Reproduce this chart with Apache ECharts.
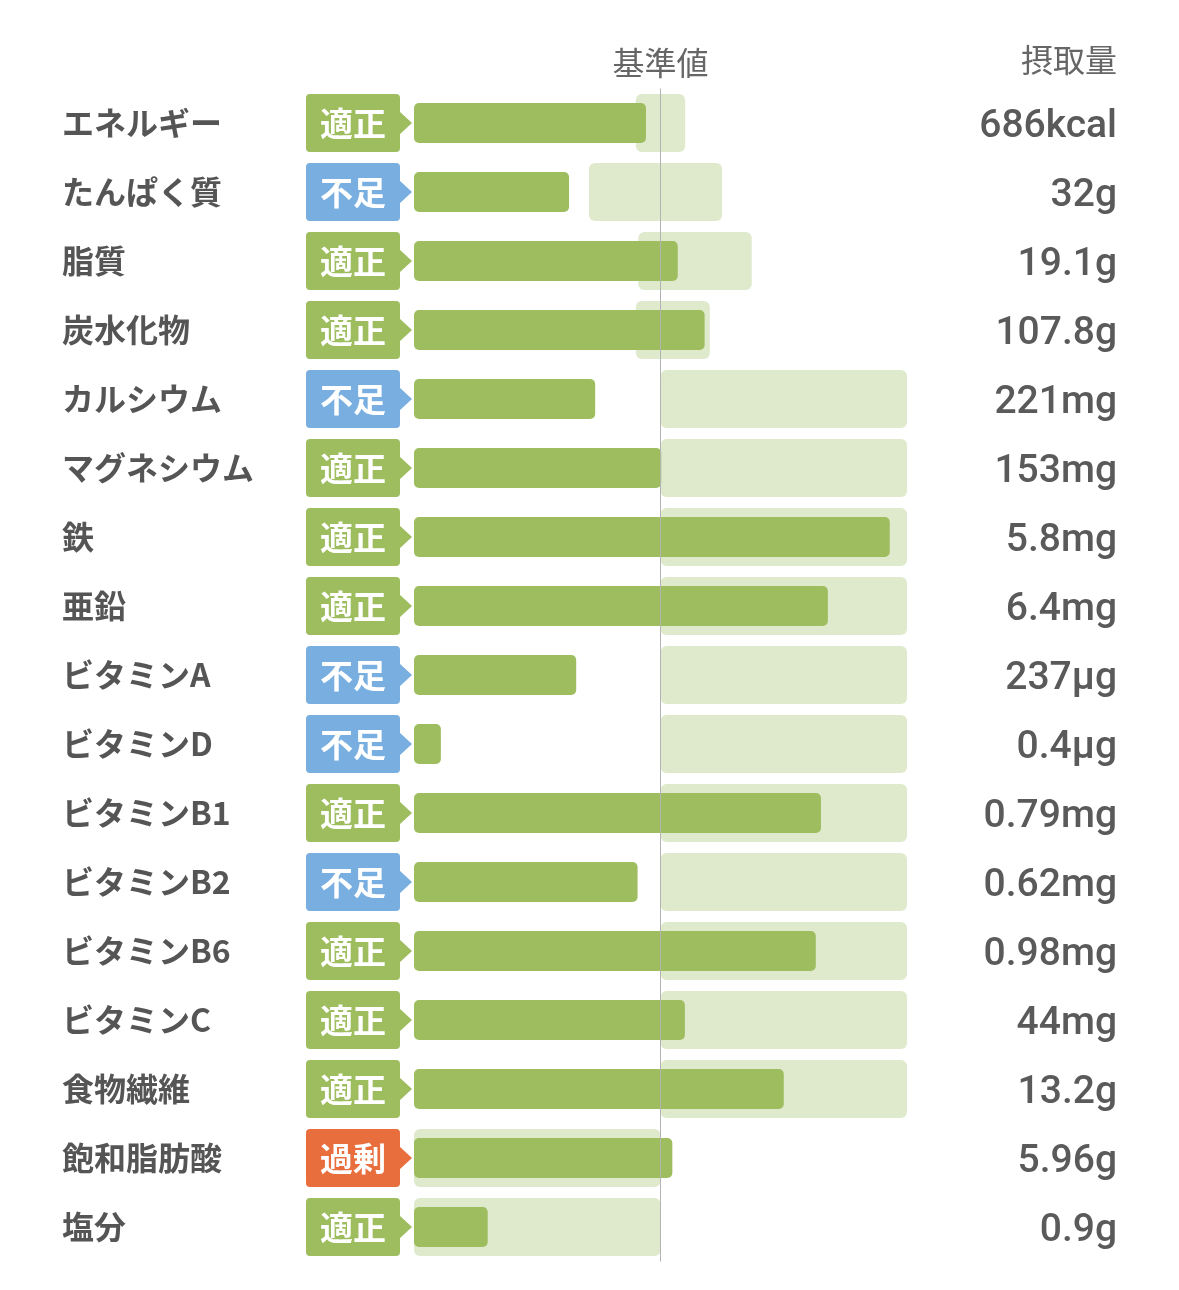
<!DOCTYPE html>
<html>
<head>
<meta charset="utf-8">
<script src="https://cdn.jsdelivr.net/npm/echarts@6/dist/echarts.min.js"></script>
<style>
html,body{margin:0;padding:0;background:#fff;}
#c{width:1179px;height:1290px;}
</style>
</head>
<body>
<div id="c"></div>
<script>
const categories = ['エネルギー','たんぱく質','脂質','炭水化物','カルシウム','マグネシウム','鉄','亜鉛','ビタミンA','ビタミンD','ビタミンB1','ビタミンB2','ビタミンB6','ビタミンC','食物繊維','飽和脂肪酸','塩分'];
const status = ['適正','不足','適正','適正','不足','適正','適正','適正','不足','不足','適正','不足','適正','適正','適正','過剰','適正'];
// intake as % of reference value
const intake = [94.1, 62.9, 107.0, 117.9, 73.5, 100.3, 193.0, 167.9, 65.8, 10.9, 165.1, 90.7, 163.0, 109.9, 150.0, 104.8, 29.9];
const rangeLow = [90, 71, 91, 90, 100, 100, 100, 100, 100, 100, 100, 100, 100, 100, 100, 0, 0];
const rangeHigh = [110, 125, 137, 120, 200, 200, 200, 200, 200, 200, 200, 200, 200, 200, 200, 100, 100];
const intakeLabels = ['686kcal','32g','19.1g','107.8g','221mg','153mg','5.8mg','6.4mg','237µg','0.4µg','0.79mg','0.62mg','0.98mg','44mg','13.2g','5.96g','0.9g'];
const referenceValue = 100;

const statusColor = {'適正':'#9dbd5e','不足':'#79aee0','過剰':'#e86f3d'};
const CJK = '"Noto Sans CJK JP","Noto Sans",sans-serif';

const chart = echarts.init(document.getElementById('c'), null, {renderer:'canvas'});

const bandData = categories.map((c,i)=>[rangeLow[i], rangeHigh[i], i]);
const badgeData = categories.map((c,i)=>[0, i, status[i]]);

chart.setOption({
  backgroundColor:'#fff',
  animation:false,
  grid:{left:414, right:272, top:88.5, bottom:28.5},
  xAxis:{type:'value', min:0, max:200, show:false},
  yAxis:[{
    type:'category', data:categories, inverse:true,
    axisLine:{show:false}, axisTick:{show:false}, splitLine:{show:false},
    axisLabel:{align:'left', margin:352, fontSize:32, fontWeight:'bold', color:'#555', fontFamily:CJK}
  },{
    type:'category', data:intakeLabels, inverse:true, position:'right',
    axisLine:{show:false}, axisTick:{show:false}, splitLine:{show:false},
    axisLabel:{align:'right', margin:210,
      formatter:function(v){ return '{v|' + v + '}'; },
      rich:{v:{fontSize:39, fontWeight:500, color:'#5a5a5a', fontFamily:'Roboto,"Noto Sans",sans-serif', padding:[9,0,0,0]}}}
  }],
  graphic:[{
    type:'text', right:62, top:44,
    style:{text:'摂取量', fill:'#666', font:'32px "Noto Sans CJK JP"', textAlign:'right'}
  }],
  series:[{
    type:'custom', z:1,
    data:bandData,
    encode:{x:[0,1], y:2},
    renderItem:function(params, api){
      const a = api.coord([api.value(0), api.value(2)]);
      const b = api.coord([api.value(1), api.value(2)]);
      const h = api.size([0,1])[1]*0.84;
      return {type:'rect', shape:{x:a[0], y:a[1]-h/2, width:b[0]-a[0], height:h, r:6},
        style:{fill:'#dfe9cc'}};
    }
  },{
    type:'bar', z:2,
    data:intake, barWidth:40,
    itemStyle:{color:'#9dbd5e', borderRadius:5}
  },{
    type:'custom', z:5,
    data:badgeData,
    encode:{x:0, y:1},
    renderItem:function(params, api){
      const p = api.coord([0, api.value(1)]);
      const h = api.size([0,1])[1]*0.84;
      const st = status[params.dataIndex];
      const col = statusColor[st];
      const x0 = p[0]-108, w = 94, cy = p[1];
      return {type:'group', children:[
        {type:'rect', shape:{x:x0, y:cy-h/2, width:w, height:h, r:4}, style:{fill:col}},
        {type:'polygon', shape:{points:[[x0+w-1, cy-12],[x0+w+12, cy],[x0+w-1, cy+12]]}, style:{fill:col}},
        {type:'text', style:{text:st, x:x0+w/2, y:cy, textAlign:'center', textVerticalAlign:'middle',
          fill:'#fff', font:'bold 33px "Noto Sans CJK JP"'}}
      ]};
    },
    markLine:{
      silent:true, symbol:'none', z:10,
      lineStyle:{color:'#b3b3b3', width:1, type:'solid'},
      label:{show:true, position:'start', formatter:'基準値', fontSize:32, color:'#666', fontFamily:CJK, distance:10},
      data:[{xAxis:referenceValue}]
    }
  }]
});
</script>
</body>
</html>
